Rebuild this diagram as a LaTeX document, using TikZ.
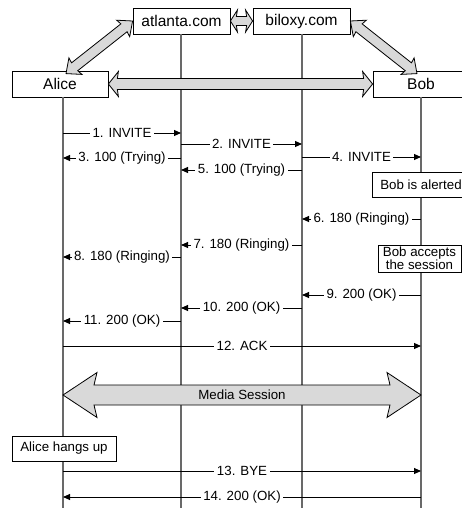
\documentclass[tikz,border=0pt]{standalone}
\usepackage{fontspec}
\setmainfont{Liberation Sans}
\usetikzlibrary{calc,arrows.meta}
\definecolor{lifegray}{RGB}{105,105,105}
\definecolor{arrowfill}{RGB}{217,217,217}
% block double arrow: #1 tip a, #2 tip b, #3 shaft half width, #4 head half width, #5 head length, #6 inner length
\newcommand\blockarr[6]{%
  \coordinate (ba) at (#1); \coordinate (bb) at (#2);
  \coordinate (p1) at ($(ba)!#5!(bb)$); \coordinate (q1) at ($(ba)!#6!(bb)$);
  \coordinate (p2) at ($(bb)!#5!(ba)$); \coordinate (q2) at ($(bb)!#6!(ba)$);
  \filldraw[blk] (ba) -- ($(p1)!#4!90:(bb)$) -- ($(q1)!#3!90:(bb)$)
    -- ($(q2)!#3!-90:(ba)$) -- ($(p2)!#4!-90:(ba)$) -- (bb)
    -- ($(p2)!#4!90:(ba)$) -- ($(q2)!#3!90:(ba)$)
    -- ($(q1)!#3!-90:(bb)$) -- ($(p1)!#4!-90:(bb)$) -- cycle;}
\begin{document}
\begin{tikzpicture}[x=1pt,y=-1pt,
  hdr/.style={draw, line width=0.8pt, fill=white, minimum width=97pt, minimum height=26pt, inner sep=0pt, font=\fontsize{15.5}{18}\selectfont},
  note/.style={draw, line width=0.8pt, fill=white, inner sep=0pt, align=center, font=\fontsize{13.3}{13}\selectfont},
  msg/.style={line width=0.9pt, -{Triangle[length=7pt,width=6pt]}},
  lbl/.style={fill=white, inner sep=2.5pt, font=\fontsize{13.3}{16}\selectfont},
  life/.style={draw=lifegray, line width=1.2pt},
  blk/.style={draw=black, line width=0.8pt, fill=arrowfill, line join=miter}]
\useasboundingbox (0,0) rectangle (462,508);
\clip (0,0) rectangle (462,508);
% header boxes
\node[hdr, minimum width=96pt] (alice) at (60,84) {Alice};
\node[hdr] (atl) at (181.5,21) {atlanta.com};
\node[hdr] (bil) at (301.5,21) {biloxy.com};
\node[hdr, minimum width=96pt] (bob) at (421,84) {Bob};
% lifelines
\coordinate (la) at (63,97);
\coordinate (lt) at (181,34);
\coordinate (lb) at (302,34);
\coordinate (lo) at (421,97);
\coordinate (bottom) at (0,508);
\draw[life] (la) -- (la |- bottom);
\draw[life] (lt) -- (lt |- bottom);
\draw[life] (lb) -- (lb |- bottom);
\draw[life] (lo) -- (lo |- bottom);
% message levels
\coordinate (m1) at (0,133);
\coordinate (m2) at (0,144);
\coordinate (m3) at (0,158);
\coordinate (m4) at (0,157);
\coordinate (m5) at (0,170);
\coordinate (m6) at (0,219);
\coordinate (m7) at (0,245);
\coordinate (m8) at (0,257);
\coordinate (m9) at (0,295);
\coordinate (m10) at (0,308);
\coordinate (m11) at (0,321);
\coordinate (m12) at (0,346);
\coordinate (m13) at (0,471);
\coordinate (m14) at (0,497);
% messages
\draw[msg] (la |- m1) -- node[lbl] {1. INVITE} (lt |- m1);
\draw[msg] (lt |- m2) -- node[lbl] {2. INVITE} (lb |- m2);
\draw[msg] (lt |- m3) -- node[lbl] {3. 100 (Trying)} (la |- m3);
\draw[msg] (lb |- m4) -- node[lbl] {4. INVITE} (lo |- m4);
\draw[msg] (lb |- m5) -- node[lbl] {5. 100 (Trying)} (lt |- m5);
\draw[msg] (lo |- m6) -- node[lbl] {6. 180 (Ringing)} (lb |- m6);
\draw[msg] (lb |- m7) -- node[lbl] {7. 180 (Ringing)} (lt |- m7);
\draw[msg] (lt |- m8) -- node[lbl] {8. 180 (Ringing)} (la |- m8);
\draw[msg] (lo |- m9) -- node[lbl] {9. 200 (OK)} (lb |- m9);
\draw[msg] (lb |- m10) -- node[lbl] {10. 200 (OK)} (lt |- m10);
\draw[msg] (lt |- m11) -- node[lbl] {11. 200 (OK)} (la |- m11);
\draw[msg] (la |- m12) -- node[lbl] {12. ACK} (lo |- m12);
\draw[msg] (la |- m13) -- node[lbl] {13. BYE} (lo |- m13);
\draw[msg] (lo |- m14) -- node[lbl] {14. 200 (OK)} (la |- m14);
% notes
\node[note, minimum width=98pt, minimum height=25pt] (alerted) at (421,184.5) {Bob is alerted};
\node[note, minimum width=83pt, minimum height=27pt] (accepts) at (419.5,258.5) {Bob accepts\\the session};
\node[note, minimum width=104pt, minimum height=25pt] (hangs) at (64,448.5) {Alice hangs up};
% block arrows
\blockarr{atl.west}{[xshift=6pt,yshift=-3pt]alice.north}{5pt}{10.5pt}{12pt}{11pt}
\blockarr{bil.east}{[xshift=-4pt,yshift=-3pt]bob.north}{5pt}{10.5pt}{12pt}{11pt}
\blockarr{atl.east}{bil.west}{4.5pt}{11pt}{7pt}{6pt}
\blockarr{alice.east}{bob.west}{5.5pt}{12.5pt}{10pt}{9pt}
\coordinate (ms) at (0,395);
\blockarr{la |- ms}{lo |- ms}{10pt}{22.5pt}{34pt}{31pt}
\node[font=\fontsize{13.3}{16}\selectfont] (media) at ($(la |- ms)!0.5!(lo |- ms)$) {Media Session};
\end{tikzpicture}
\end{document}
